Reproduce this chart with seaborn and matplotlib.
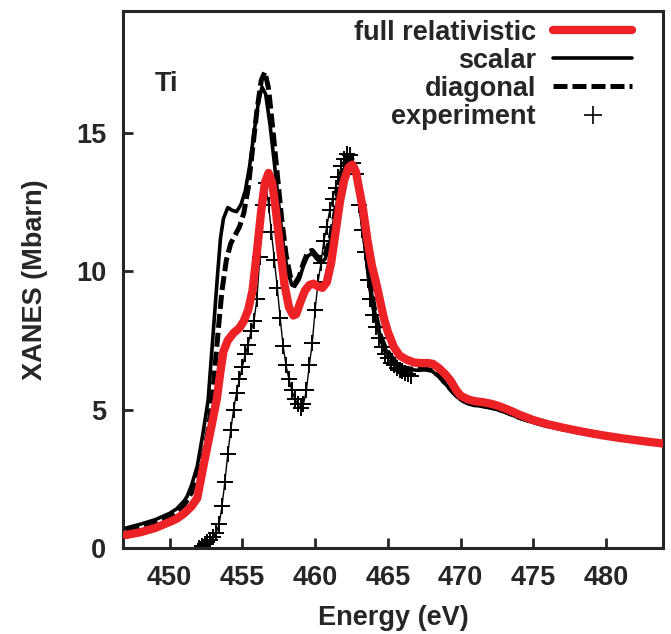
import numpy as np
import pandas as pd
import matplotlib
matplotlib.use("Agg")
import matplotlib.pyplot as plt
from matplotlib.lines import Line2D
import seaborn as sns

# ---------------- data ----------------
full_energy = [447.0, 448.0, 449.0, 450.0, 450.5, 451.0, 451.5, 451.9, 452.3, 452.8,
               453.25, 453.5, 453.7, 454.0, 454.4, 454.8, 455.1, 455.4, 455.7,
               456.0, 456.3, 456.55, 456.8, 457.05, 457.3, 457.6, 457.9, 458.2, 458.5,
               458.7, 459.0, 459.3, 459.6, 459.9, 460.2, 460.5, 460.8, 461.1, 461.4,
               461.7, 462.0, 462.3, 462.55, 462.8, 463.05, 463.3, 463.6, 463.9, 464.25,
               464.7, 465.0, 465.4, 465.8, 466.3, 466.8, 467.3, 467.8, 468.1, 468.5,
               468.9, 469.3, 469.7, 470.0, 470.5, 471.0, 471.5, 472.0, 472.5, 473.0,
               473.6, 474.0, 475.0, 476.0, 477.0, 478.0, 479.0, 480.0, 481.0, 482.0,
               483.0, 484.0]
full_xanes = [0.47, 0.57, 0.72, 0.94, 1.06, 1.25, 1.5, 1.8, 2.9, 4.2,
              5.4, 6.4, 7.1, 7.5, 7.77, 7.95, 8.2, 8.6, 9.3,
              10.7, 12.2, 13.2, 13.55, 13.2, 12.2, 10.8, 9.5, 8.7, 8.4,
              8.45, 8.9, 9.3, 9.5, 9.55, 9.45, 9.4, 9.6, 10.3, 11.4,
              12.5, 13.3, 13.75, 13.85, 13.6, 12.9, 12.2, 11.1, 10.2, 9.44,
              8.35, 7.8, 7.27, 6.95, 6.8, 6.7, 6.68, 6.68, 6.65, 6.5,
              6.3, 6.05, 5.7, 5.5, 5.37, 5.3, 5.27, 5.22, 5.15, 5.05,
              4.92, 4.82, 4.62, 4.47, 4.35, 4.24, 4.14, 4.05, 3.97, 3.9,
              3.83, 3.77]

scalar_energy = [447.0, 448.0, 449.0, 450.0, 450.5, 451.0, 451.2, 451.5, 451.9, 452.3,
                 452.65, 452.9, 453.1, 453.3, 453.5, 453.7, 454.0, 454.3, 454.6, 454.9,
                 455.2, 455.5, 455.8, 456.1, 456.35, 456.6, 456.9, 457.2, 457.5, 457.8,
                 458.1, 458.4, 458.6, 458.9, 459.2, 459.5, 459.8, 460.1, 460.4, 460.7,
                 461.0, 461.3, 461.6, 461.9, 462.2, 462.4, 462.7, 463.0, 463.3, 463.6,
                 463.8, 464.1, 464.5, 464.8, 465.2, 465.6, 466.0, 466.5, 467.0, 467.5,
                 468.0, 468.5, 469.0, 469.5, 470.0, 470.5, 471.0, 471.5, 472.0, 472.5,
                 473.0, 474.0, 475.0, 476.0, 477.0, 478.0, 479.0, 480.0, 481.0, 482.0,
                 483.0, 484.0]
scalar_xanes = [0.72, 0.86, 1.02, 1.25, 1.42, 1.7, 1.86, 2.25, 2.95, 4.16,
                5.35, 7.1, 8.5, 9.9, 11.2, 11.9, 12.3, 12.2, 12.15, 12.4,
                12.9, 13.8, 15.0, 16.1, 16.65, 16.4, 15.3, 13.9, 12.4, 11.0,
                10.0, 9.5, 9.45, 9.7, 10.2, 10.55, 10.65, 10.45, 10.3, 10.45,
                11.0, 11.8, 12.7, 13.5, 14.0, 14.1, 13.8, 12.9, 11.6, 10.2,
                9.44, 8.5, 7.6, 7.2, 6.9, 6.65, 6.5, 6.45, 6.42, 6.45,
                6.4, 6.2, 5.9, 5.6, 5.35, 5.22, 5.15, 5.12, 5.07, 5.0,
                4.92, 4.7, 4.53, 4.39, 4.28, 4.18, 4.08, 4.0, 3.93, 3.86,
                3.8, 3.74]

diag_energy = [447.0, 448.0, 449.0, 450.0, 451.0, 451.5, 452.0, 452.4, 452.7, 453.0,
               453.2, 453.4, 453.6, 453.9, 454.2, 454.5, 454.8, 455.1, 455.4, 455.7,
               456.0, 456.3, 456.55, 456.8, 457.1, 457.4, 457.7, 458.0, 458.3, 458.6,
               458.9, 459.2, 459.5, 459.8, 460.1, 460.4, 460.7, 461.0, 461.3, 461.6,
               461.9, 462.2, 462.4, 462.7, 463.0, 463.3, 463.6, 463.8, 464.1, 464.5,
               464.8, 465.2, 465.6, 466.0, 466.5, 467.0, 467.5, 468.0, 468.5, 469.0,
               469.5, 470.0, 470.5, 471.0, 471.5, 472.0, 472.5, 473.0, 474.0, 475.0,
               476.0, 477.0, 478.0, 479.0, 480.0, 481.0, 482.0, 483.0, 484.0]
diag_xanes = [0.6, 0.74, 0.9, 1.12, 1.55, 2.0, 2.75, 3.5, 4.4, 5.8,
              7.0, 8.2, 9.3, 10.4, 11.0, 11.3, 11.6, 12.1, 13.0, 14.4,
              15.8, 16.9, 17.2, 16.6, 15.1, 13.5, 11.9, 10.6, 9.8, 9.55,
              9.8, 10.3, 10.7, 10.75, 10.55, 10.45, 10.6, 11.1, 11.9, 12.8,
              13.6, 14.05, 14.15, 13.9, 13.0, 11.7, 10.3, 9.5, 8.55, 7.65,
              7.25, 6.92, 6.67, 6.52, 6.47, 6.44, 6.47, 6.42, 6.22, 5.92,
              5.62, 5.37, 5.24, 5.17, 5.14, 5.09, 5.02, 4.94, 4.72, 4.55,
              4.41, 4.3, 4.2, 4.1, 4.02, 3.95, 3.88, 3.81, 3.75]

exp_energy = list(np.round(np.arange(452.0, 466.61, 0.2), 1))
exp_xanes = [0.0, 0.08, 0.15, 0.22, 0.3, 0.4, 0.55, 0.85, 1.5, 2.4,
             3.4, 4.25, 5.0, 5.6, 6.1, 6.55, 7.0, 7.35, 7.85, 8.2,
             9.0, 10.5, 12.4, 13.2, 12.4, 11.4, 10.4, 9.4, 8.3, 7.3,
             6.6, 6.1, 5.7, 5.4, 5.2, 5.05, 5.2, 5.7, 6.6, 7.4,
             8.6, 9.6, 10.3, 11.1, 11.6, 12.2, 12.6, 13.0, 13.4, 13.8,
             14.05, 14.25, 14.2, 13.9, 13.5, 12.4, 11.5, 10.7, 9.7, 9.0,
             8.4, 8.0, 7.6, 7.25, 7.0, 6.85, 6.7, 6.6, 6.5, 6.42,
             6.38, 6.33, 6.28, 6.2]

x_ticks = [450, 455, 460, 465, 470, 475, 480]
y_ticks = [0, 5, 10, 15]
labels = ["full relativistic", "scalar", "diagonal", "experiment"]

# ---------------- style ----------------
sns.set_style("ticks")
plt.rcParams["font.family"] = ["Liberation Sans", "DejaVu Sans"]
plt.rcParams["font.weight"] = "bold"
FS = 19.5

fig = plt.figure(figsize=(6.71, 6.34), dpi=100)
ax = fig.add_axes([123 / 671, 86 / 634, 540 / 671, 537 / 634])

red = "#ec2227"

df_exp = pd.DataFrame({"E": exp_energy, "X": exp_xanes})
df_sc = pd.DataFrame({"E": scalar_energy, "X": scalar_xanes})
df_dg = pd.DataFrame({"E": diag_energy, "X": diag_xanes})
df_fu = pd.DataFrame({"E": full_energy, "X": full_xanes})

sns.lineplot(data=df_exp, x="E", y="X", ax=ax, color="black", lw=1.0,
             marker="+", markersize=12, markeredgewidth=1.4,
             markeredgecolor="black", sort=False, estimator=None, zorder=2)
sns.lineplot(data=df_sc, x="E", y="X", ax=ax, color="black", lw=2.6,
             sort=False, estimator=None, zorder=3)
line_dg = sns.lineplot(data=df_dg, x="E", y="X", ax=ax, color="black", lw=3.6,
                       sort=False, estimator=None, zorder=3).lines[-1]
line_dg.set_dashes((2.8, 1.0))
sns.lineplot(data=df_fu, x="E", y="X", ax=ax, color=red, lw=6,
             sort=False, estimator=None, zorder=4)

ax.set_xlim(446.8, 483.9)
ax.set_ylim(0, 19.4)
ax.set_xticks(x_ticks)
ax.set_yticks(y_ticks)
ax.tick_params(direction="in", length=7, width=2, labelsize=FS, pad=12,
               top=False, right=False)
for s in ax.spines.values():
    s.set_linewidth(2.2)
    s.set_visible(True)
for t in ax.get_xticklabels() + ax.get_yticklabels():
    t.set_fontweight("bold")

ax.set_xlabel("Energy (eV)", fontsize=FS, fontweight="bold", labelpad=10)
ax.set_ylabel("XANES (Mbarn)", fontsize=FS, fontweight="bold", labelpad=20)

ax.text(0.059, 0.864, "Ti", transform=ax.transAxes, fontsize=FS,
        fontweight="bold", va="center", ha="left")

handles = [
    Line2D([], [], color=red, lw=6),
    Line2D([], [], color="black", lw=2.6),
    Line2D([], [], color="black", lw=3.6, dashes=(2.8, 1.0)),
    Line2D([], [], color="black", lw=0, marker="+", markersize=13, markeredgewidth=1.2),
]
leg = ax.legend(handles, labels, loc="upper right", bbox_to_anchor=(0.9426, 0.984),
                frameon=False, markerfirst=False, fontsize=FS, handlelength=2.9,
                handletextpad=0.65, labelspacing=0.08, borderpad=0, borderaxespad=0,
                prop={"weight": "bold", "size": FS})

fig.savefig("out.png", dpi=100)
